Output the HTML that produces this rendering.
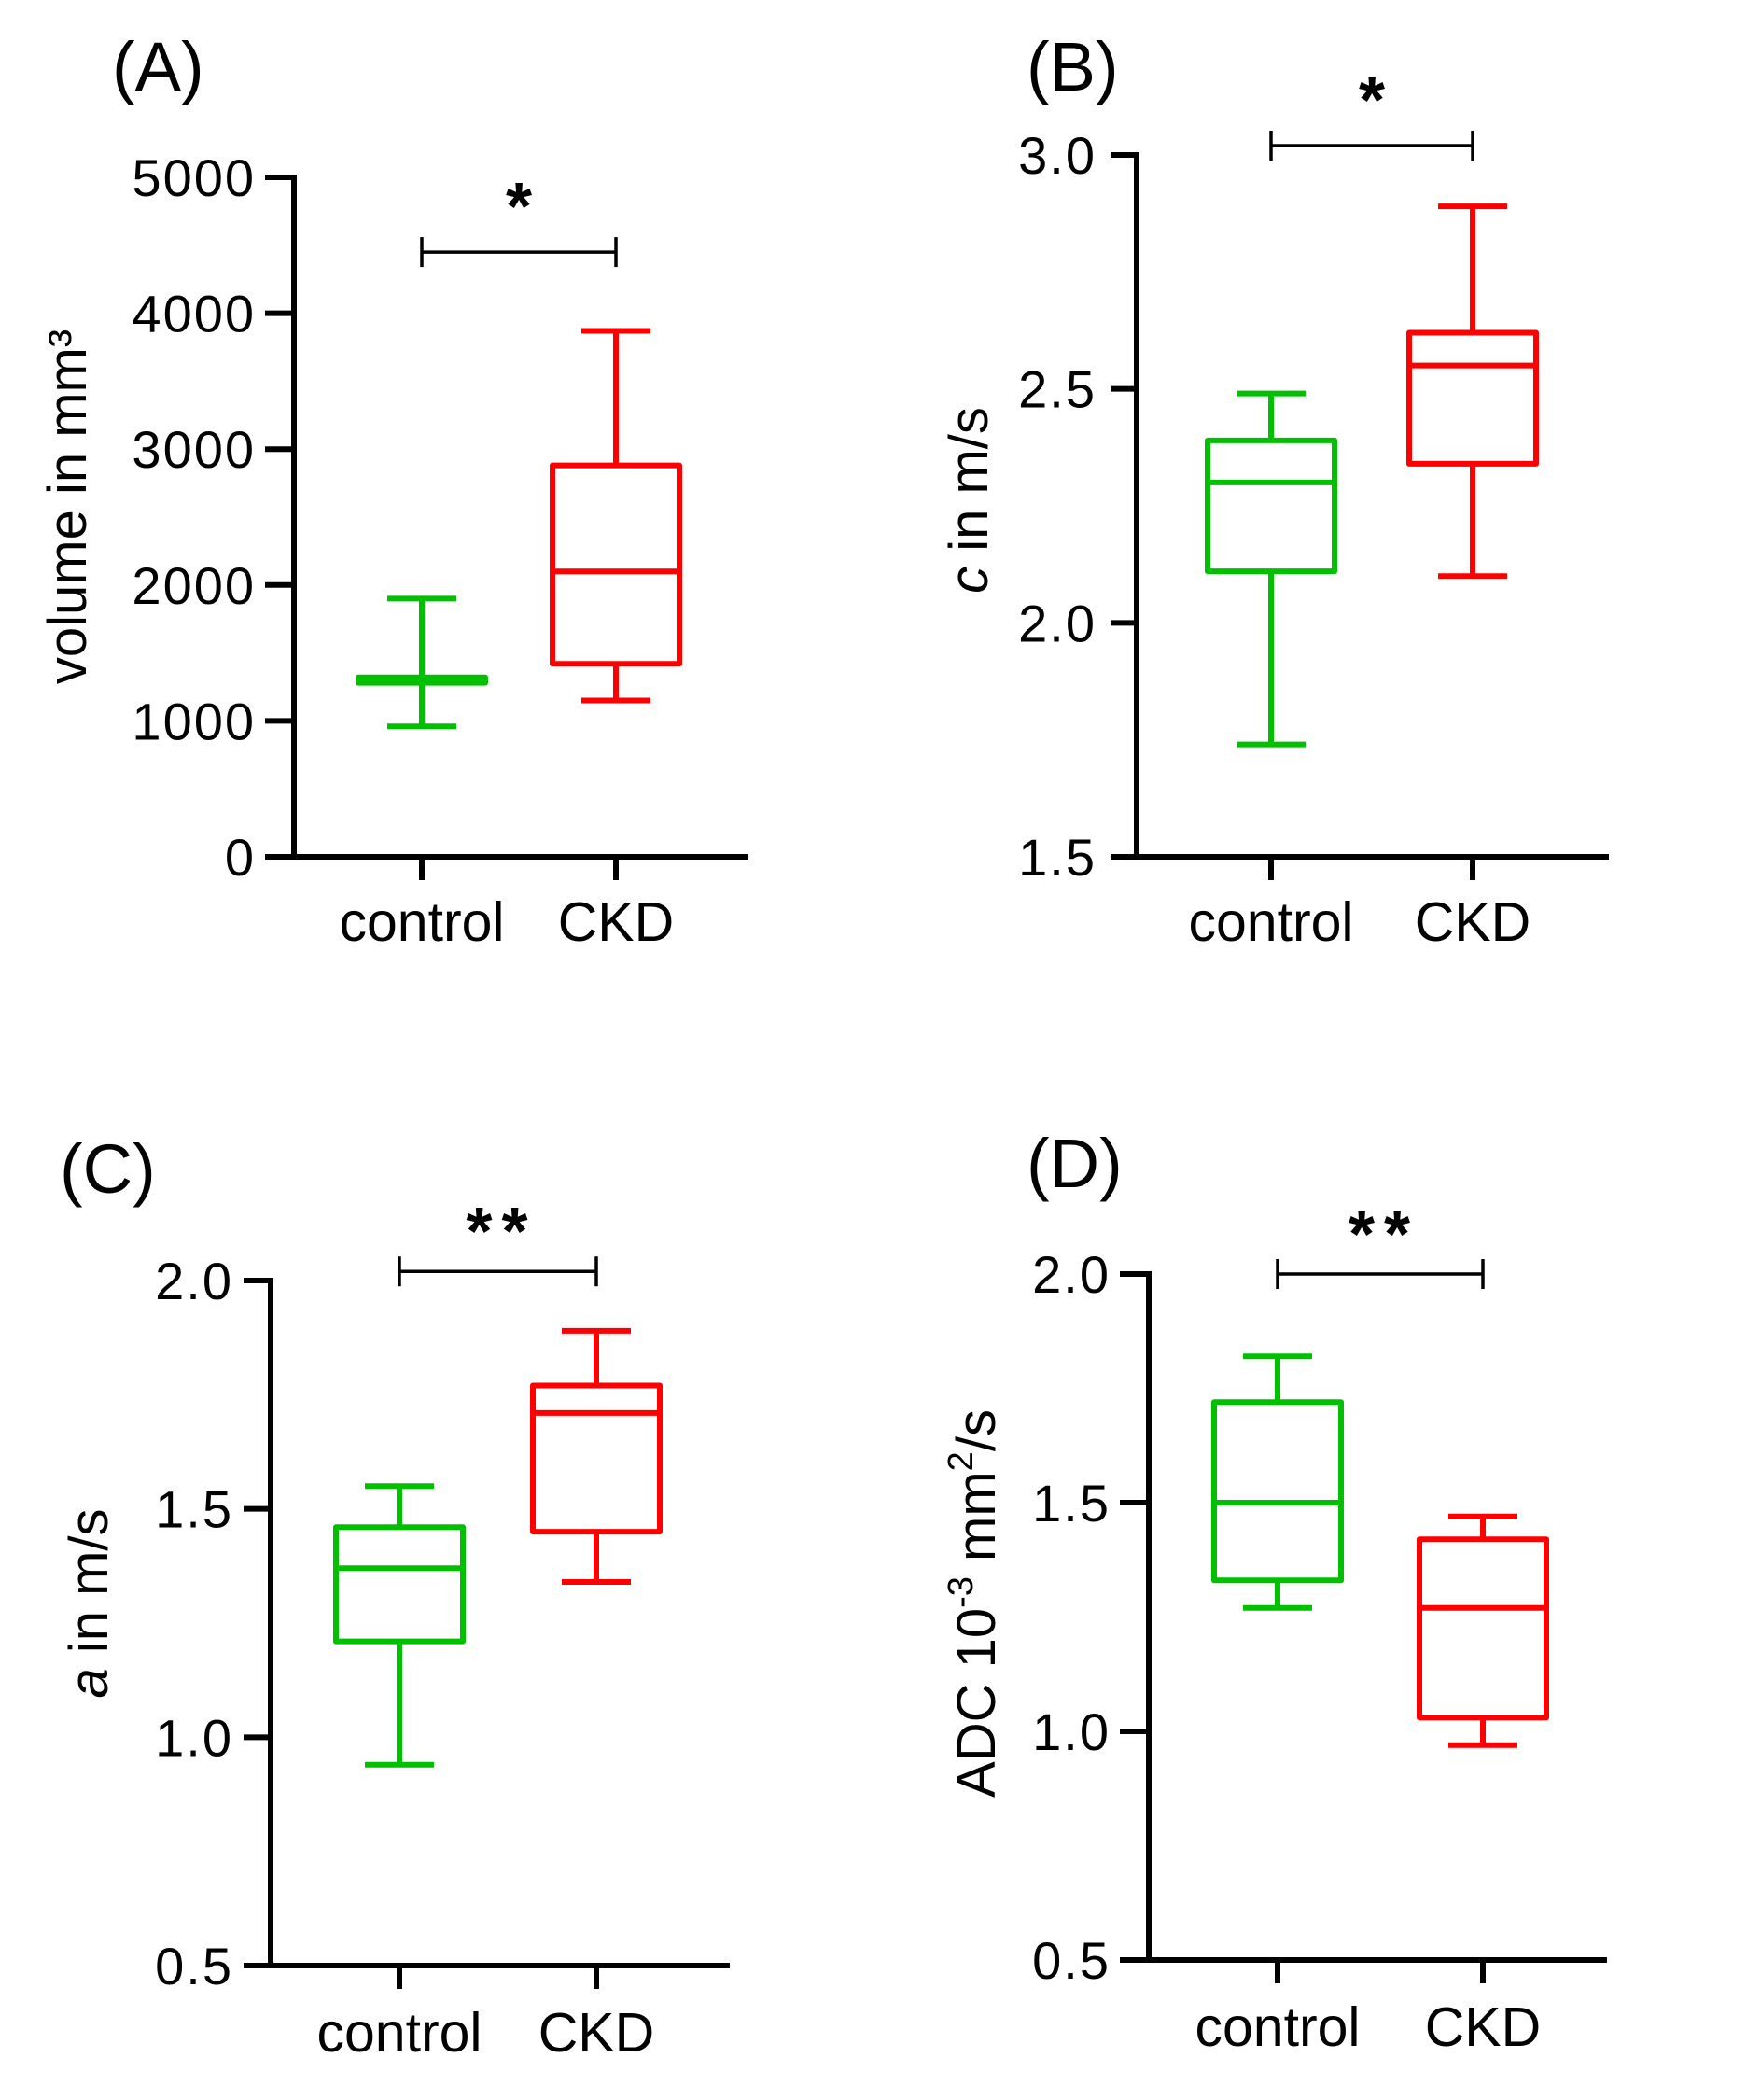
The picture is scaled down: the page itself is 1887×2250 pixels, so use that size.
<!DOCTYPE html>
<html><head><meta charset="utf-8"><style>
html,body{margin:0;padding:0;background:#fff;}
svg{display:block;font-family:"Liberation Sans",Arial,sans-serif;}
</style></head><body>
<svg id="fig" width="1887" height="2250" viewBox="0 0 1887 2250" xmlns="http://www.w3.org/2000/svg"></svg>
<script>
// ---- data ----
const categories = ["control", "CKD"];
// each box: [whiskerLow, q1, median, q3, whiskerHigh]
const volumeControl = [960, 1280, 1300, 1320, 1900];
const volumeCKD = [1150, 1420, 2100, 2880, 3870];
const volumeTicks = ["0", "1000", "2000", "3000", "4000", "5000"];
const cControl = [1.74, 2.11, 2.30, 2.39, 2.49];
const cCKD = [2.10, 2.34, 2.55, 2.62, 2.89];
const cTicks = ["1.5", "2.0", "2.5", "3.0"];
const aControl = [0.94, 1.21, 1.37, 1.46, 1.55];
const aCKD = [1.34, 1.45, 1.71, 1.77, 1.89];
const aTicks = ["0.5", "1.0", "1.5", "2.0"];
const adcControl = [1.27, 1.33, 1.50, 1.72, 1.82];
const adcCKD = [0.97, 1.03, 1.27, 1.42, 1.47];
const adcTicks = ["0.5", "1.0", "1.5", "2.0"];
const sigLevels = [4450, 3.02, 2.02, 2.0];
const sigStars = ["*", "*", "**", "**"];

const svg = document.getElementById('fig');
const NS = 'http://www.w3.org/2000/svg';
function mk(tag, attrs, parent){
  const e = document.createElementNS(NS, tag);
  for (const k in attrs) e.setAttribute(k, attrs[k]);
  (parent||svg).appendChild(e);
  return e;
}
const panels = [
  {id:'a', label:'(A)', lx:120, ly:97, ax:315, top:190, bot:918, xl:284, xr:802, cx:[452,660], catY:1008,
   tx:274, title:'volume in mm³', titleX:92, titleY:543, ticks:volumeTicks, boxes:[volumeControl, volumeCKD], sig:0},
  {id:'b', label:'(B)', lx:1100, ly:97, ax:1218, top:166, bot:918, xl:1190, xr:1724, cx:[1362,1578], catY:1008,
   tx:1175, title:'c in m/s', italic:'c', titleX:1058, titleY:536, ticks:cTicks, boxes:[cControl, cCKD], sig:1},
  {id:'c', label:'(C)', lx:64, ly:1278, ax:290, top:1372, bot:2106, xl:261, xr:782, cx:[428,639], catY:2198,
   tx:250, title:'a in m/s', italic:'a', titleX:115, titleY:1718, ticks:aTicks, boxes:[aControl, aCKD], sig:2},
  {id:'d', label:'(D)', lx:1100, ly:1272, ax:1231, top:1365, bot:2100, xl:1200, xr:1722, cx:[1369,1589], catY:2192,
   tx:1190, title:'ADC', titleX:1066, titleY:1718, ticks:adcTicks, boxes:[adcControl, adcCKD], sig:3}
];
const colors = ['#00c000', '#ff0000'];

panels.forEach(p => {
  const g = mk('g', {});
  
  
  const t0 = parseFloat(p.ticks[0]), t1 = parseFloat(p.ticks[p.ticks.length-1]);
  const y = v => p.bot - (v - t0) / (t1 - t0) * (p.bot - p.top);

  const lab = mk('text', {x:p.lx, y:p.ly, 'font-size':74, fill:'#000'}, g);
  lab.textContent = p.label;
  
  

  const ya = mk('line', {x1:p.ax, y1:p.top-3, x2:p.ax, y2:p.bot+3, stroke:'#000', 'stroke-width':6}, g);
  
  
  const xa = mk('line', {x1:p.xl, y1:p.bot, x2:p.xr, y2:p.bot, stroke:'#000', 'stroke-width':6}, g);
  
  

  p.ticks.forEach(tl => {
    const yy = y(parseFloat(tl));
    const tk = mk('line', {x1:p.xl, y1:yy, x2:p.ax, y2:yy, stroke:'#000', 'stroke-width':6}, g);
    
    
    const tt = mk('text', {x:p.tx, y:yy+20, 'font-size':56, 'letter-spacing':2, 'text-anchor':'end', fill:'#000'}, g);
    tt.textContent = tl;
    
    
  });

  categories.forEach((c, i) => {
    const tk = mk('line', {x1:p.cx[i], y1:p.bot, x2:p.cx[i], y2:p.bot+25, stroke:'#000', 'stroke-width':6}, g);
    
    
    const ct = mk('text', {x:p.cx[i], y:p.catY, 'font-size':59, 'text-anchor':'middle', fill:'#000'}, g);
    ct.textContent = c;
    
    
  });

  const yt = mk('text', {transform:`translate(${p.titleX},${p.titleY}) rotate(-90)`, 'font-size':58, 'text-anchor':'middle', fill:'#000'}, g);
  if (p.id === 'd') {
    yt.innerHTML = 'ADC 10<tspan dy="-24" font-size="38">-3</tspan><tspan dy="24"> mm</tspan><tspan dy="-24" font-size="38">2</tspan><tspan dy="24">/s</tspan>';
  } else if (p.italic) {
    yt.innerHTML = '<tspan font-style="italic">' + p.italic + '</tspan>' + p.title.slice(1);
  } else {
    yt.textContent = p.title;
  }
  
  

  p.boxes.forEach((b, i) => {
    const cx = p.cx[i], col = colors[i], hw = 68, cw = 34;
    const bg = mk('g', {stroke:col, 'stroke-width':6, fill:'none'}, g);
    
    
    mk('line', {x1:cx, y1:y(b[4]), x2:cx, y2:y(b[3])}, bg);
    mk('line', {x1:cx, y1:y(b[1]), x2:cx, y2:y(b[0])}, bg);
    mk('line', {x1:cx-cw-3, y1:y(b[4]), x2:cx+cw+3, y2:y(b[4])}, bg);
    mk('line', {x1:cx-cw-3, y1:y(b[0]), x2:cx+cw+3, y2:y(b[0])}, bg);
    mk('rect', {x:cx-hw, y:y(b[3]), width:2*hw, height:Math.max(0.1, y(b[1])-y(b[3])), 'stroke-linejoin':'round'}, bg);
    mk('line', {x1:cx-hw, y1:y(b[2]), x2:cx+hw, y2:y(b[2])}, bg);
  });

  const sy = y(sigLevels[p.sig]);
  const sg = mk('g', {stroke:'#000', 'stroke-width':3.5}, g);
  
  
  mk('line', {x1:p.cx[0], y1:sy, x2:p.cx[1], y2:sy}, sg);
  mk('line', {x1:p.cx[0], y1:sy-16, x2:p.cx[0], y2:sy+16}, sg);
  mk('line', {x1:p.cx[1], y1:sy-16, x2:p.cx[1], y2:sy+16}, sg);
  const two = sigStars[p.sig].length > 1;
  const st = mk('text', {x:(p.cx[0]+p.cx[1])/2 + (two?4:0), y:sy + (two?-18:-24), 'font-size':72, 'font-weight':'bold', 'letter-spacing': two?10:0, 'text-anchor':'middle', fill:'#000'}, g);
  st.textContent = sigStars[p.sig];
  
  
});
</script>
</body></html>
